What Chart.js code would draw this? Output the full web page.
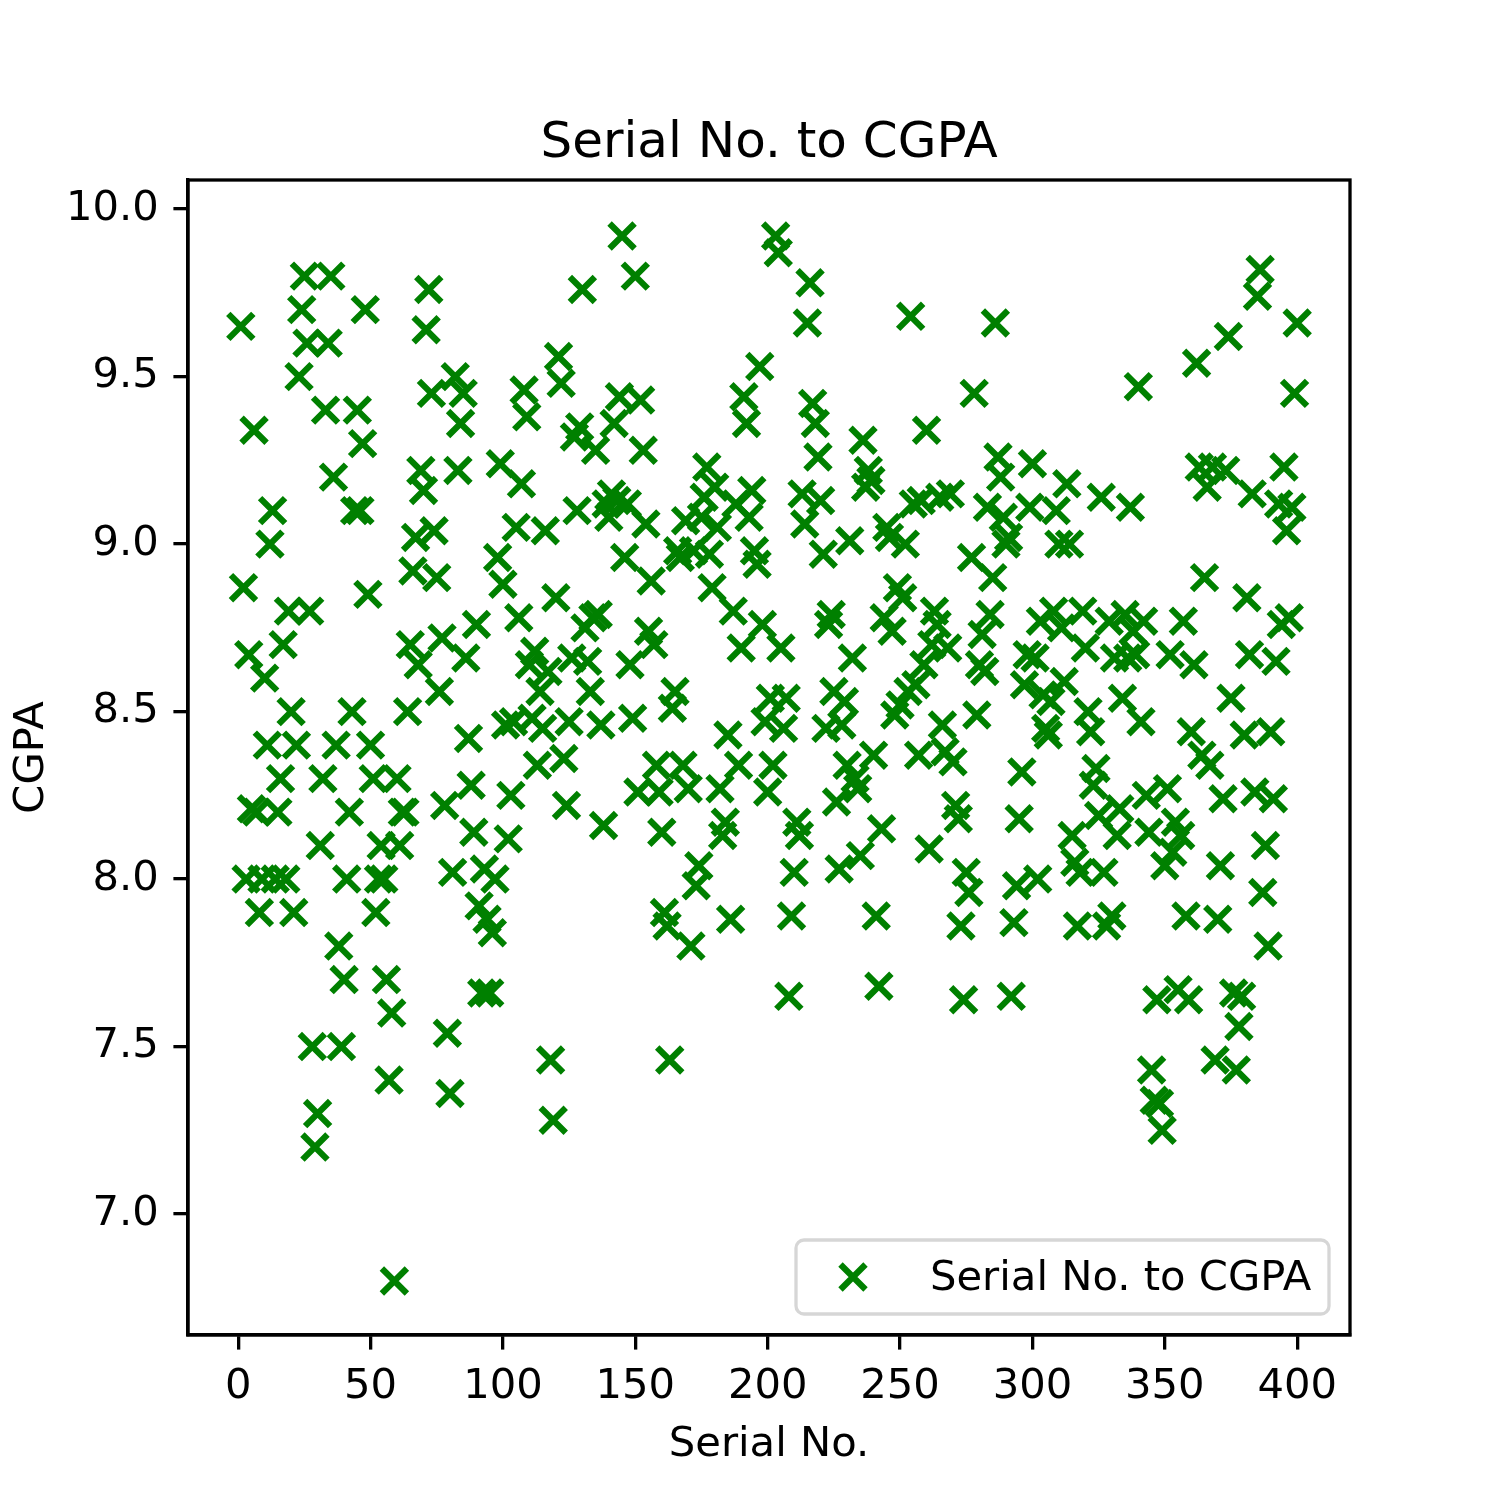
<!DOCTYPE html>
<html>
<head>
<meta charset="utf-8">
<title>Serial No. to CGPA</title>
<script src="https://cdn.jsdelivr.net/npm/chart.js@4.4.0/dist/chart.umd.min.js"></script>
<style>
  html, body { margin: 0; padding: 0; background: #ffffff; }
  #wrap { width: 1500px; height: 1500px; }
</style>
</head>
<body>
<div id="wrap"><canvas id="cgpaChart" width="1500" height="1500"></canvas></div>
<script>
// CGPA per serial no. (serial 1..400)
const cgpa001to100 = [
  9.65, 8.87, 8.00, 8.67, 8.21, 9.34, 8.20, 7.90, 8.00, 8.60,
  8.40, 9.00, 9.10, 8.00, 8.20, 8.30, 8.70, 8.00, 8.80, 8.50,
  7.90, 8.40, 9.50, 9.70, 9.80, 9.60, 8.80, 7.50, 7.20, 7.30,
  8.10, 8.30, 9.40, 9.60, 9.80, 9.20, 8.40, 7.80, 7.50, 7.70,
  8.00, 8.20, 8.50, 9.10, 9.40, 9.10, 9.30, 9.70, 8.85, 8.40,
  8.30, 7.90, 8.00, 8.10, 8.00, 7.70, 7.40, 7.60, 6.80, 8.30,
  8.10, 8.20, 8.20, 8.50, 8.70, 8.92, 9.02, 8.64, 9.22, 9.16,
  9.64, 9.76, 9.45, 9.04, 8.90, 8.56, 8.72, 8.22, 7.54, 7.36,
  8.02, 9.50, 9.22, 9.36, 9.45, 8.66, 8.42, 8.28, 8.14, 8.76,
  7.92, 7.66, 8.03, 7.88, 7.66, 7.84, 8.00, 8.96, 9.24, 8.88
];
const cgpa101to200 = [
  8.46, 8.12, 8.25, 8.47, 9.05, 8.78, 9.18, 9.46, 9.38, 8.64,
  8.48, 8.68, 8.34, 8.56, 8.45, 9.04, 8.62, 7.46, 7.28, 8.84,
  9.56, 9.48, 8.36, 8.22, 8.47, 8.66, 9.32, 9.10, 9.35, 9.76,
  8.75, 8.65, 8.56, 8.78, 9.28, 8.79, 8.46, 8.16, 9.12, 9.08,
  9.15, 9.36, 9.13, 9.44, 9.92, 8.96, 9.12, 8.64, 8.48, 9.80,
  8.26, 9.43, 9.28, 9.06, 8.74, 8.89, 8.70, 8.34, 8.26, 8.14,
  7.90, 7.86, 7.46, 8.51, 8.56, 8.98, 8.96, 8.34, 9.07, 8.27,
  7.80, 8.98, 7.98, 8.04, 9.08, 9.14, 9.23, 8.97, 8.87, 9.17,
  9.05, 8.27, 8.13, 8.17, 8.43, 7.88, 8.80, 9.12, 8.34, 8.69,
  9.44, 9.36, 9.08, 9.16, 8.98, 8.94, 9.53, 8.76, 8.47, 8.26
];
const cgpa201to300 = [
  8.54, 8.34, 9.92, 9.87, 8.69, 8.45, 8.54, 7.65, 7.89, 8.02,
  8.17, 8.13, 9.15, 9.06, 9.66, 9.78, 9.42, 9.36, 9.26, 9.13,
  8.97, 8.45, 8.76, 8.79, 8.56, 8.23, 8.03, 8.46, 8.53, 8.34,
  9.01, 8.66, 8.30, 8.27, 8.07, 9.31, 9.17, 9.22, 9.19, 8.37,
  7.89, 7.68, 8.15, 8.78, 9.05, 9.02, 8.74, 8.49, 8.87, 8.52,
  8.84, 9.00, 8.56, 9.68, 9.12, 8.58, 8.37, 9.13, 8.64, 9.34,
  8.09, 8.70, 8.80, 8.76, 9.14, 8.46, 8.38, 8.69, 9.15, 8.35,
  8.22, 8.18, 7.86, 7.64, 8.02, 7.96, 8.96, 9.45, 8.49, 8.64,
  8.73, 8.62, 9.11, 8.79, 8.90, 9.66, 9.26, 9.20, 9.08, 9.00,
  9.02, 7.65, 7.87, 7.98, 8.18, 8.32, 8.58, 8.67, 9.11, 9.24
];
const cgpa301to400 = [
  8.66, 8.00, 8.77, 8.55, 8.45, 8.43, 8.53, 8.80, 9.10, 9.00,
  8.75, 8.59, 9.18, 9.00, 8.13, 8.05, 7.86, 8.02, 8.80, 8.69,
  8.50, 8.44, 8.28, 8.33, 8.19, 9.14, 8.02, 7.86, 8.77, 7.89,
  8.66, 8.13, 8.21, 8.54, 8.79, 8.66, 9.11, 8.74, 8.67, 9.47,
  8.47, 8.77, 8.25, 8.14, 7.43, 7.34, 7.64, 7.33, 7.25, 8.04,
  8.27, 8.67, 8.08, 8.17, 7.67, 8.13, 8.77, 7.89, 7.64, 8.44,
  8.64, 9.54, 9.23, 8.37, 8.90, 9.17, 8.34, 9.23, 7.46, 7.88,
  8.04, 8.24, 9.22, 9.62, 8.54, 7.66, 7.43, 7.56, 7.65, 8.43,
  8.84, 8.67, 9.15, 8.26, 9.74, 9.82, 7.96, 8.10, 7.80, 8.44,
  8.24, 8.65, 9.12, 8.76, 9.23, 9.04, 8.78, 9.11, 9.45, 9.66
];

const xTickValues = [0, 50, 100, 150, 200, 250, 300, 350, 400];
const yTickValues = [7.0, 7.5, 8.0, 8.5, 9.0, 9.5, 10.0];

const chartTitle = 'Serial No. to CGPA';
const seriesLabel = 'Serial No. to CGPA';
const xAxisLabel = 'Serial No.';
const yAxisLabel = 'CGPA';

// serial numbers are just the row index (1-based)
const cgpaValues = [].concat(cgpa001to100, cgpa101to200, cgpa201to300, cgpa301to400);
const scatterPoints = cgpaValues.map((v, i) => ({ x: i + 1, y: v }));

const GREEN = '#008000';
const FONT = 'DejaVu Sans';
const TICK_SIZE = 41.7;
const LINE_W = 3.3;

// frame, title, axis labels and legend box (drawn like matplotlib does)
const decorPlugin = {
  id: 'decor',
  afterDraw(chart) {
    const { ctx, chartArea: a } = chart;
    ctx.save();

    // all four spines
    ctx.strokeStyle = '#000';
    ctx.lineWidth = LINE_W;
    ctx.strokeRect(a.left, a.top, a.right - a.left, a.bottom - a.top);

    const midX = (a.left + a.right) / 2;
    ctx.fillStyle = '#000';
    ctx.textBaseline = 'alphabetic';

    // title
    ctx.font = `50px "${FONT}"`;
    ctx.textAlign = 'center';
    ctx.fillText(chartTitle, midX, 157);

    // x label
    ctx.font = `${TICK_SIZE}px "${FONT}"`;
    ctx.fillText(xAxisLabel, midX, 1456);

    // y label, rotated
    ctx.save();
    ctx.translate(43, (a.top + a.bottom) / 2);
    ctx.rotate(-Math.PI / 2);
    ctx.fillText(yAxisLabel, 0, 0);
    ctx.restore();

    // legend (lower right)
    const bx = 796, by = 1240, bw = 533, bh = 74;
    ctx.beginPath();
    ctx.roundRect(bx, by, bw, bh, 8);
    ctx.fillStyle = 'rgba(255,255,255,0.8)';
    ctx.fill();
    ctx.strokeStyle = 'rgba(204,204,204,0.8)';
    ctx.lineWidth = LINE_W;
    ctx.stroke();

    const mx = 853, my = 1277, h = 12.5;
    ctx.strokeStyle = GREEN;
    ctx.lineWidth = 6.25;
    ctx.beginPath();
    ctx.moveTo(mx - h, my - h); ctx.lineTo(mx + h, my + h);
    ctx.moveTo(mx - h, my + h); ctx.lineTo(mx + h, my - h);
    ctx.stroke();

    ctx.fillStyle = '#000';
    ctx.textAlign = 'left';
    ctx.font = `${TICK_SIZE}px "${FONT}"`;
    ctx.fillText(seriesLabel, 930, 1290);

    ctx.restore();
  }
};

const axisGrid = {
  drawOnChartArea: false,
  drawTicks: true,
  tickLength: 14.6,
  tickColor: '#000',
  tickWidth: LINE_W,
  lineWidth: LINE_W,
  color: '#000'
};

new Chart(document.getElementById('cgpaChart'), {
  type: 'scatter',
  data: {
    datasets: [{
      label: seriesLabel,
      data: scatterPoints,
      pointStyle: 'crossRot',
      pointRadius: 17.7,
      pointHoverRadius: 17.7,
      borderWidth: 6.25,
      borderColor: GREEN,
      backgroundColor: GREEN
    }]
  },
  options: {
    responsive: false,
    devicePixelRatio: 1,
    animation: false,
    events: [],
    layout: { padding: { left: 0, right: 150, top: 180, bottom: 0 } },
    plugins: {
      legend: { display: false },
      title: { display: false },
      tooltip: { enabled: false }
    },
    scales: {
      x: {
        type: 'linear',
        position: 'bottom',
        min: -18.95,
        max: 419.95,
        afterBuildTicks: s => { s.ticks = xTickValues.map(v => ({ value: v })); },
        afterFit: s => { s.height = 165; },
        ticks: {
          color: '#000',
          font: { family: FONT, size: TICK_SIZE },
          padding: 13,
          maxRotation: 0,
          autoSkip: false,
          callback: v => String(v)
        },
        grid: axisGrid,
        border: { display: true, color: '#000', width: LINE_W }
      },
      y: {
        type: 'linear',
        position: 'left',
        min: 6.639,
        max: 10.087,
        afterBuildTicks: s => { s.ticks = yTickValues.map(v => ({ value: v })); },
        afterFit: s => { s.width = 188; },
        ticks: {
          color: '#000',
          font: { family: FONT, size: TICK_SIZE },
          padding: 14.6,
          autoSkip: false,
          callback: v => v.toFixed(1)
        },
        grid: axisGrid,
        border: { display: true, color: '#000', width: LINE_W }
      }
    }
  },
  plugins: [decorPlugin]
});
</script>
</body>
</html>
